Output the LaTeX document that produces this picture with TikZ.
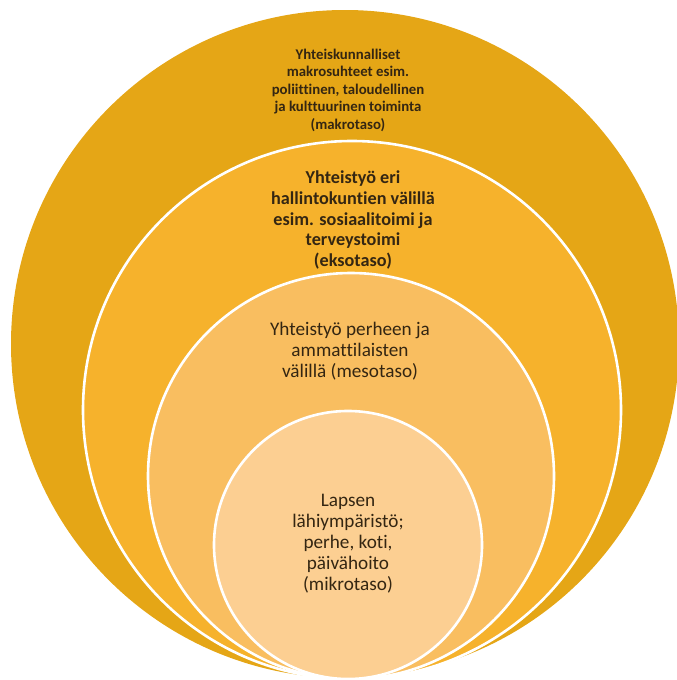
\documentclass[tikz,border=0pt]{standalone}
\usepackage{fontspec}
\setmainfont[Ligatures={NoCommon}]{Carlito}
\definecolor{ringA}{RGB}{229,166,22}
\definecolor{ringB}{RGB}{246,178,44}
\definecolor{ringC}{RGB}{249,190,96}
\definecolor{ringD}{RGB}{252,207,146}
\definecolor{txt}{RGB}{52,38,18}
\begin{document}
\begin{tikzpicture}[x=1pt,y=-1pt,
  ring/.style={circle, inner sep=0pt, outer sep=0pt, draw=white, line width=2.6pt},
  lbl/.style={align=center, text=txt, inner sep=0pt}]
\useasboundingbox (0,0) rectangle (677,680);
\node[ring, draw=none, fill=ringA, minimum size=668pt] (c1) at (345,344) {};
\node[ring, fill=ringB, minimum size=538pt] (c2) at (352,410) {};
\node[ring, fill=ringC, minimum size=406pt] (c3) at (351,476) {};
\node[ring, fill=ringD, minimum size=268pt] (c4) at (348,545) {};
\node[lbl, font=\bfseries\fontsize{14.8}{17.5}\selectfont] (t1) at (348,90)
  {Yhteiskunnalliset\\makrosuhteet esim.\\poliittinen, taloudellinen\\ja kulttuurinen toiminta\\(makrotaso)};
\node[lbl, font=\bfseries\fontsize{18.2}{20.8}\selectfont] (t2) at (353,220)
  {Yhteistyö eri\\hallintokuntien välillä\\esim. sosiaalitoimi ja\\terveystoimi\\(eksotaso)};
\node[lbl, font=\fontsize{19.2}{20.8}\selectfont] (t3) at (350,351)
  {Yhteistyö perheen ja\\ammattilaisten\\välillä (mesotaso)};
\node[lbl, font=\fontsize{19.2}{21}\selectfont] (t4) at (348,544)
  {Lapsen\\lähiympäristö;\\perhe, koti,\\päivähoito\\(mikrotaso)};
\end{tikzpicture}
\end{document}
